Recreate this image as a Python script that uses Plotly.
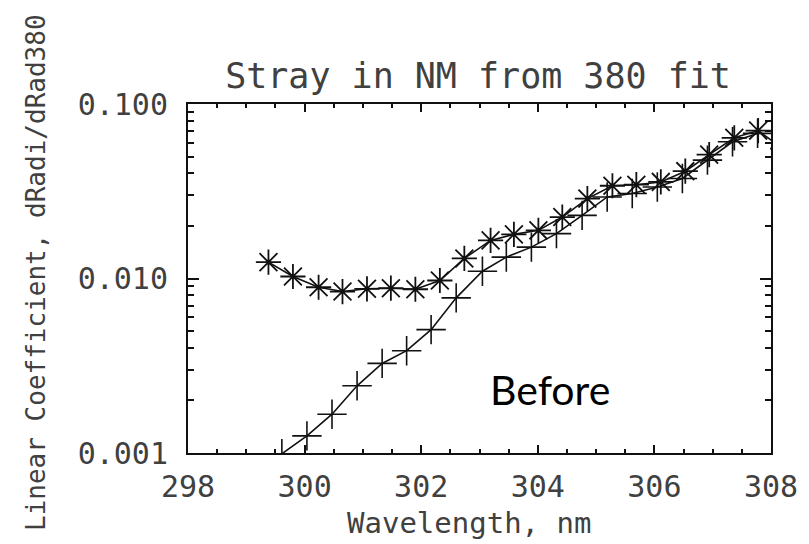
import plotly.graph_objects as go

# Asterisk series (psym=-2 style)
wl_star = [299.38, 299.80, 300.24, 300.65, 301.07, 301.48, 301.90, 302.32, 302.74,
           303.19, 303.59, 304.01, 304.42, 304.85, 305.28, 305.69, 306.11, 306.53,
           306.94, 307.37, 307.78, 308.20]
val_star = [0.01241, 0.01027, 0.00891, 0.00842, 0.00873, 0.00880, 0.00868, 0.00974,
            0.01303, 0.01654, 0.01790, 0.01888, 0.02250, 0.02871, 0.03401, 0.03447,
            0.03576, 0.04121, 0.05126, 0.06401, 0.07042, 0.05550]

# Plus series
wl_plus = [299.61, 300.04, 300.47, 300.90, 301.33, 301.75, 302.17, 302.60, 303.05,
           303.46, 303.89, 304.32, 304.76, 305.19, 305.62, 306.05, 306.48, 306.91,
           307.34, 307.77]
val_plus = [0.00099, 0.001253, 0.001668, 0.002427, 0.003261, 0.003857, 0.005093,
            0.007745, 0.01101, 0.01326, 0.01513, 0.01807, 0.02301, 0.02933, 0.03069,
            0.03347, 0.03741, 0.04767, 0.06072, 0.06785]

x_ticks = [298, 300, 302, 304, 306, 308]
y_ticks = [0.001, 0.01, 0.1]
y_ticktext = ["0.001", "0.010", "0.100"]
y_minor = [2e-3, 3e-3, 4e-3, 5e-3, 6e-3, 7e-3, 8e-3, 9e-3,
           2e-2, 3e-2, 4e-2, 5e-2, 6e-2, 7e-2, 8e-2, 9e-2]

title_text = "Stray in NM from 380 fit"
x_title = "Wavelength, nm"
y_title = "Linear Coefficient, dRadi/dRad380"
note_text = "Before"

W, H = 809, 544
ML, MR, MT, MB = 188, 38, 104, 91
ink = "#111111"
txt = "#404040"
mono = "DejaVu Sans Mono"

fig = go.Figure()
fig.add_trace(go.Scatter(
    x=wl_star, y=val_star, mode="lines+markers",
    line=dict(color=ink, width=1.6),
    marker=dict(symbol="asterisk-open", size=21, color=ink,
                line=dict(color=ink, width=1.8)),
    showlegend=False))
fig.add_trace(go.Scatter(
    x=wl_plus, y=val_plus, mode="lines+markers",
    line=dict(color=ink, width=1.6),
    marker=dict(symbol="cross-thin-open", size=21, color=ink,
                line=dict(color=ink, width=1.6)),
    showlegend=False))

axis_font = dict(family=mono, size=30, color=txt)

fig.update_layout(
    width=W, height=H,
    margin=dict(l=ML, r=MR, t=MT, b=MB),
    paper_bgcolor="white", plot_bgcolor="white",
    title=dict(text=title_text, x=478 / W, xanchor="center",
               y=1 - 76 / H, yanchor="middle", yref="container",
               font=dict(family=mono, size=35, color=txt)),
    xaxis=dict(range=[298, 308], tickvals=x_ticks, ticks="inside", ticklen=8,
               tickwidth=1.5, tickcolor=ink, showline=True, linecolor=ink,
               linewidth=2, mirror="allticks", showgrid=False, zeroline=False,
               tickfont=axis_font, ticklabelstandoff=6,
               minor=dict(dtick=0.5, ticks="inside", ticklen=4, tickwidth=1.5,
                          tickcolor=ink, showgrid=False)),
    yaxis=dict(type="log", range=[-3, -1], tickvals=y_ticks, ticktext=y_ticktext,
               ticks="inside", ticklen=11, tickwidth=1.5, tickcolor=ink,
               showline=True, linecolor=ink, linewidth=2, mirror="allticks",
               showgrid=False, zeroline=False, tickfont=axis_font,
               ticklabelstandoff=12,
               minor=dict(tickvals=y_minor, ticks="inside", ticklen=6,
                          tickwidth=1.5, tickcolor=ink, showgrid=False)),
    annotations=[
        dict(text=x_title, xref="paper", yref="paper",
             x=(469 - ML) / (W - ML - MR), y=-(523 - (H - MB)) / (H - MT - MB),
             xanchor="center", yanchor="middle", showarrow=False,
             font=dict(family=mono, size=29, color=txt)),
        dict(text=y_title, xref="paper", yref="paper", textangle=-90,
             x=-(ML - 36) / (W - ML - MR), y=1 - (273 - MT) / (H - MT - MB),
             xanchor="center", yanchor="middle", showarrow=False,
             font=dict(family=mono, size=26, color=txt)),
        dict(text=note_text, xref="paper", yref="paper",
             x=(550 - ML) / (W - ML - MR), y=1 - (389 - MT) / (H - MT - MB),
             xanchor="center", yanchor="middle", showarrow=False,
             font=dict(family="Lato", size=41, color="black")),
    ],
)

fig.write_html("out.html")
